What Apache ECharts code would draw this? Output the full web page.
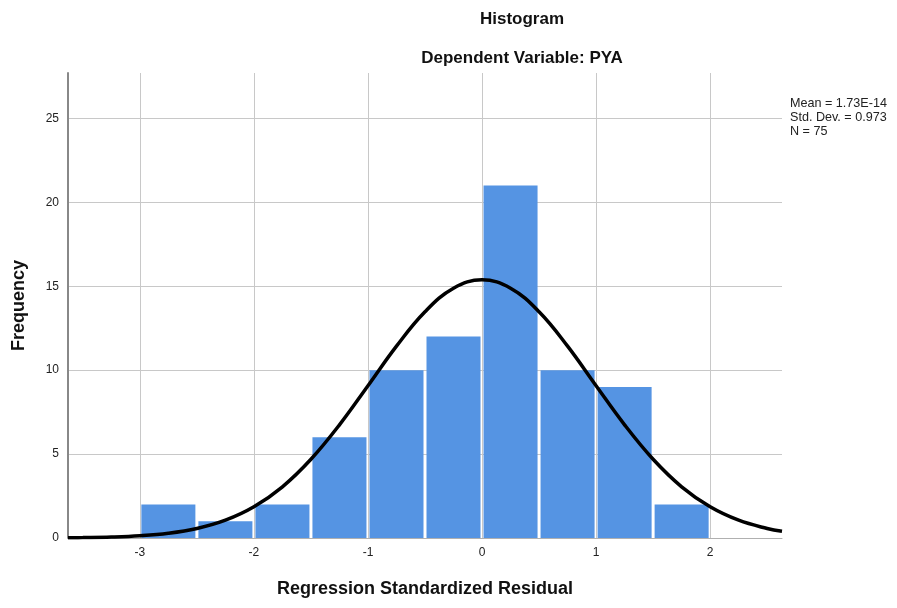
<!DOCTYPE html>
<html>
<head>
<meta charset="utf-8">
<script src="https://cdn.jsdelivr.net/npm/echarts@6/dist/echarts.min.js"></script>
<style>html,body{margin:0;padding:0;background:#fff;}#c{width:897px;height:608px;}</style>
</head>
<body>
<div id="c"></div>
<script>
// Histogram bins (lower edge, upper edge) and frequencies
const binStarts = [-3, -2.5, -2, -1.5, -1, -0.5, 0, 0.5, 1, 1.5];
const binEnds   = [-2.5, -2, -1.5, -1, -0.5, 0, 0.5, 1, 1.5, 2];
const frequencies = [2, 1, 2, 6, 10, 12, 21, 10, 9, 2];
// Normal curve
const curveX = [-3.63, -3.5, -3.25, -3, -2.75, -2.5, -2.25, -2, -1.75, -1.5, -1.25, -1, -0.75, -0.5, -0.25, 0, 0.25, 0.5, 0.75, 1, 1.25, 1.5, 1.75, 2, 2.25, 2.5, 2.63];
const curveY = [0.015, 0.024, 0.058, 0.133, 0.283, 0.567, 1.06, 1.86, 3.05, 4.69, 6.74, 9.07, 11.43, 13.48, 14.88, 15.38, 14.88, 13.48, 11.43, 9.07, 6.74, 4.69, 3.05, 1.86, 1.06, 0.567, 0.40];
const xTicks = [-3, -2, -1, 0, 1, 2];
const yTicks = [0, 5, 10, 15, 20, 25];
const statsLines = ['Mean = 1.73E-14', 'Std. Dev. = 0.973', 'N = 75'];

const chart = echarts.init(document.getElementById('c'));
const font = '"Liberation Sans", Arial, sans-serif';
chart.setOption({
  animation: false,
  backgroundColor: '#fff',
  textStyle: { fontFamily: font },
  title: [
    { text: 'Histogram', left: 517, top: 6, textAlign: 'center',
      textStyle: { fontSize: 17, fontWeight: 'bold', color: '#111', fontFamily: font } },
    { text: 'Dependent Variable: PYA', left: 517, top: 45, textAlign: 'center',
      textStyle: { fontSize: 17, fontWeight: 'bold', color: '#111', fontFamily: font } },
    { text: statsLines.join('\n'), left: 785, top: 92,
      textStyle: { fontSize: 12.6, fontWeight: 'normal', color: '#222', lineHeight: 14, fontFamily: font } }
  ],
  grid: { left: 68, right: 115, top: 73, bottom: 70 },
  xAxis: {
    type: 'value', min: -3.63, max: 2.63,
    name: 'Regression Standardized Residual', nameLocation: 'middle', nameGap: 42,
    nameTextStyle: { fontSize: 18, fontWeight: 'bold', color: '#111', fontFamily: font },
    axisLine: { show: true, onZero: false, lineStyle: { color: '#b0b0b0', width: 1 } },
    axisTick: { show: false, customValues: xTicks },
    axisLabel: { customValues: xTicks, color: '#222', fontSize: 12, margin: 9 },
    splitLine: { show: true, lineStyle: { color: '#c8c8c8', width: 1 } }
  },
  yAxis: {
    type: 'value', min: 0, max: 27.7,
    name: 'Frequency', nameLocation: 'middle', nameGap: 40, nameRotate: 90,
    nameTextStyle: { fontSize: 18, fontWeight: 'bold', color: '#111', fontFamily: font },
    axisLine: { show: true, onZero: false, lineStyle: { color: '#888', width: 2 } },
    axisTick: { show: false, customValues: yTicks },
    axisLabel: { customValues: yTicks, color: '#222', fontSize: 12, margin: 9 },
    splitLine: { show: true, lineStyle: { color: '#c8c8c8', width: 1 } }
  },
  series: [
    {
      type: 'custom',
      data: frequencies.map((f, i) => [binStarts[i], binEnds[i], f]),
      encode: { x: [0, 1], y: 2 },
      renderItem: function (params, api) {
        const p0 = api.coord([api.value(0), api.value(2)]);
        const p1 = api.coord([api.value(1), 0]);
        return {
          type: 'rect',
          shape: { x: p0[0] + 1.5, y: p0[1], width: p1[0] - p0[0] - 3, height: p1[1] - p0[1] },
          style: { fill: '#5594e3' }
        };
      },
      z: 2
    },
    {
      type: 'line',
      data: curveX.map((x, i) => [x, curveY[i]]),
      smooth: 0.4, showSymbol: false,
      lineStyle: { color: '#000', width: 3.5 },
      z: 3
    }
  ]
});
</script>
</body>
</html>
